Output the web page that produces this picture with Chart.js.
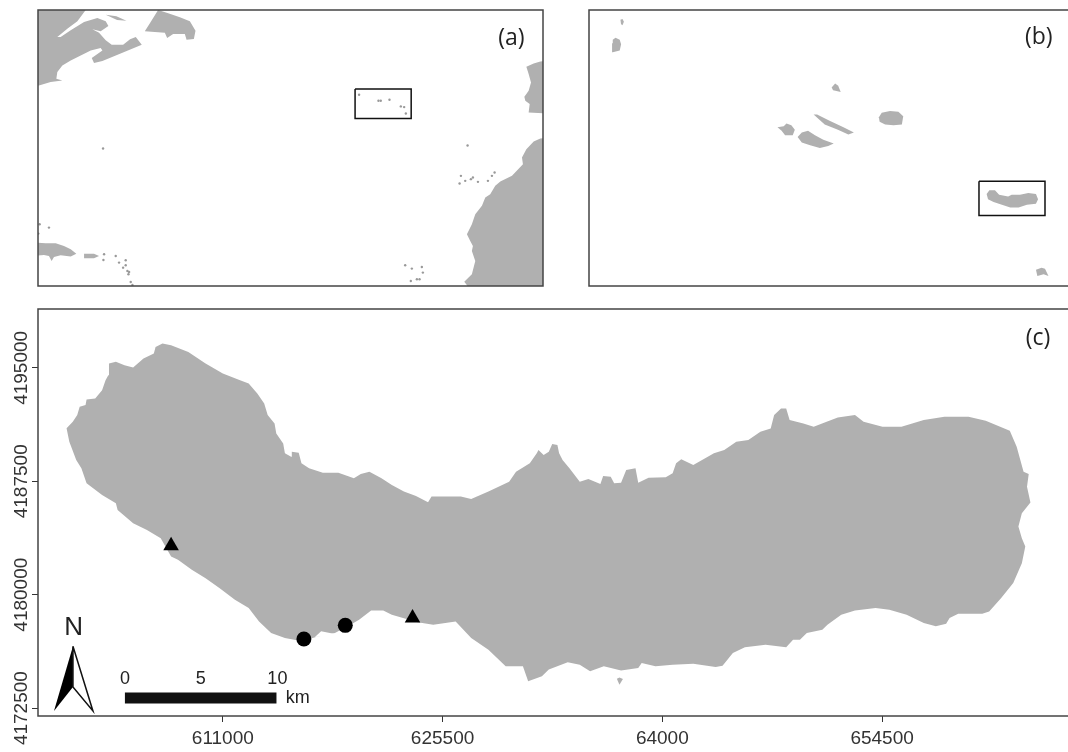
<!DOCTYPE html>
<html>
<head>
<meta charset="utf-8">
<title>Study area map</title>
<script src="https://cdn.jsdelivr.net/npm/chart.js@4"></script>
<style>
  body { margin: 0; background: #fff; width: 1068px; height: 752px; overflow: hidden; position: relative; }
  canvas { position: absolute; display: block; }
  #mapA { left: 30px; top: 0; }
  #mapB { left: 580px; top: 0; }
  #mapC { left: 0; top: 300px; }
</style>
</head>
<body>
<canvas id="mapA" width="520" height="295"></canvas>
<canvas id="mapB" width="488" height="295"></canvas>
<canvas id="mapC" width="1090" height="452"></canvas>
<script>
const LAND = '#b0b0b0';

// --- panel (a): North Atlantic, lon / lat
const canadaLon = [-76, -68.33, -70.13, -71.49, -72.84, -72.39, -71.03, -69.23, -67.43, -66.30, -65.94, -66.98, -68.10, -67.20, -66.30, -65.49, -63.95, -63.01, -62.24, -61.43, -64.04, -66.75, -67.88, -68.19, -66.75, -66.98, -68.33, -69.68, -71.03, -72.16, -72.84, -72.97, -72.16, -73.74, -75.32, -76];
const canadaLat = [52, 52, 49.56, 48.57, 47.45, 47.45, 48.35, 49.47, 50.01, 49.56, 48.93, 48.21, 48.48, 48.03, 47.00, 46.41, 46.41, 47.13, 47.45, 46.41, 45.33, 44.20, 43.94, 44.61, 45.64, 45.96, 45.64, 44.97, 44.29, 43.62, 42.72, 41.82, 41.60, 41.37, 40.92, 40.83];
const newfoundlandLon = [-61.02, -60.25, -59.22, -57.86, -56.28, -54.93, -54.17, -54.39, -55.38, -55.61, -57.19, -58.0, -58.31];
const newfoundlandLat = [48.21, 49.43, 51.09, 50.64, 50.10, 49.56, 48.30, 47.18, 47.09, 47.85, 47.85, 47.31, 48.03];
const anticostiLon = [-66.30, -64.86, -63.50, -64.76];
const anticostiLat = [50.46, 50.24, 49.65, 49.74];
const iberiaLon = [-9.47, -8.48, -7.58, -6.68, -6.68, -9.16, -9.02, -9.61, -9.74, -9.16, -8.84, -9.16];
const iberiaLat = [43.44, 43.89, 44.16, 44.25, 37.14, 37.28, 38.40, 38.85, 39.39, 40.20, 41.33, 42.45];
const africaLon = [-6.68, -7.58, -8.48, -9.47, -10.06, -9.93, -11.41, -12.99, -13.67, -14.35, -15.02, -15.47, -16.37, -16.83, -17.50, -17.05, -16.69, -16.83, -16.37, -16.83, -17.86, -17.41, -17.41, -6.68];
const africaLat = [33.81, 33.77, 33.36, 32.33, 31.20, 30.30, 28.73, 27.96, 27.38, 26.25, 25.80, 24.68, 23.55, 22.20, 20.85, 19.95, 19.28, 18.60, 17.25, 15.45, 14.46, 13.88, 13.2, 13.2];
const hispaniolaLon = [-76.22, -74.42, -73.06, -71.94, -71.03, -70.27, -71.03, -72.39, -73.29, -73.61, -73.97, -74.64, -76.22];
const hispaniolaLat = [19.73, 19.64, 19.64, 19.28, 18.83, 18.24, 17.84, 18.02, 17.79, 17.25, 17.93, 18.06, 17.93];
const puertoRicoLon = [-69.23, -67.88, -67.2, -67.88, -69.23];
const puertoRicoLat = [18.24, 18.24, 17.93, 17.61, 17.61];
const isletLon = [-17.41, -18.31, -17.73, -18.49, -16.96, -16.69, -16.01, -14.66, -14.12, -13.76, -25.84, -24.94, -23.59, -23.45, -24.26, -25.08, -23.9, -29.14, -29.45, -27.96, -26.43, -25.98, -25.75, -32.07, -66.66, -73.97, -75.23, -75.41, -66.52, -66.61, -64.95, -64.5, -63.6, -63.6, -63.95, -63.37, -63.14, -63.23, -62.92, -62.69];
const isletLat = [32.82, 28.73, 28.05, 27.69, 28.28, 28.5, 27.92, 28.05, 28.73, 29.18, 16.67, 16.22, 16.44, 15.68, 14.78, 14.55, 14.78, 38.85, 38.85, 38.99, 38.09, 38.0, 37.14, 39.66, 32.42, 21.75, 22.2, 20.94, 18.15, 17.39, 17.93, 17.03, 17.34, 16.67, 16.35, 15.9, 15.77, 15.45, 14.42, 14.01];
const azoresBoxLon = [-32.61, -25.03, -25.03, -32.61, -32.61];
const azoresBoxLat = [40.43, 40.43, 36.47, 36.47, 40.43];

// --- panel (b): Azores archipelago
const corvoLon = [-31.13, -31.10, -31.08, -31.10, -31.12];
const corvoLat = [39.78, 39.79, 39.76, 39.72, 39.73];
const floresLon = [-31.25, -31.24, -31.20, -31.14, -31.12, -31.14, -31.24, -31.25];
const floresLat = [39.52, 39.56, 39.58, 39.56, 39.51, 39.44, 39.42, 39.46];
const graciosaLon = [-28.09, -28.04, -27.996, -27.96, -28.02, -28.07];
const graciosaLat = [39.03, 39.075, 39.05, 38.98, 38.99, 39.0];
const terceiraLon = [-27.41, -27.37, -27.25, -27.13, -27.06, -27.08, -27.20, -27.32, -27.40];
const terceiraLat = [38.70, 38.75, 38.77, 38.76, 38.71, 38.62, 38.61, 38.62, 38.65];
const saoJorgeLon = [-28.35, -28.30, -28.12, -27.92, -27.77, -27.85, -28.0, -28.19];
const saoJorgeLat = [38.73, 38.73, 38.66, 38.59, 38.53, 38.51, 38.56, 38.62];
const faialLon = [-28.87, -28.78, -28.74, -28.67, -28.62, -28.65, -28.76, -28.81];
const faialLat = [38.59, 38.60, 38.63, 38.61, 38.56, 38.50, 38.50, 38.55];
const picoLon = [-28.58, -28.52, -28.43, -28.33, -28.21, -28.06, -28.14, -28.26, -28.40, -28.52];
const picoLat = [38.48, 38.53, 38.55, 38.50, 38.45, 38.41, 38.38, 38.36, 38.39, 38.42];
const saoMiguelLon = [-25.86, -25.82, -25.74, -25.68, -25.55, -25.50, -25.38, -25.26, -25.15, -25.12, -25.15, -25.28, -25.40, -25.52, -25.64, -25.76, -25.84];
const saoMiguelLat = [37.85, 37.89, 37.89, 37.84, 37.82, 37.84, 37.84, 37.86, 37.85, 37.79, 37.74, 37.73, 37.70, 37.70, 37.73, 37.76, 37.79];
const santaMariaLon = [-25.15, -25.07, -25.02, -24.97, -25.04, -25.13];
const santaMariaLat = [37.01, 37.03, 37.02, 36.94, 36.96, 36.94];
const miguelBoxLon = [-25.97, -25.02, -25.02, -25.97, -25.97];
const miguelBoxLat = [37.99, 37.99, 37.61, 37.61, 37.99];

// --- panel (c): Sao Miguel in UTM metres
const coastX = [600690, 601100, 601395, 601555, 601942, 602010, 602579, 603034, 603262, 603444, 603489, 603944, 604513, 605082, 605765, 606448, 606562, 607017, 607586, 608724, 609862, 611000, 612138, 612707, 613276, 613731, 613959, 614414, 614528, 614983, 615097, 615506, 615552, 616007, 616189, 616690, 617600, 618625, 619649, 620104, 620673, 621470, 622152, 622949, 623746, 624542, 624770, 625794, 626704, 627387, 628525, 629891, 630346, 631256,
  631715, 631828, 632169, 632509, 632736, 633077, 633190, 633417, 633871, 634552, 635120, 635914, 636096, 636595, 636822, 637276, 637617, 638229, 638411, 639092, 640227, 640681, 640908, 641249, 642043, 643405, 644086, 644881, 645675, 646470, 647151, 647378, 647832, 648172, 648399, 649307, 649988, 650669, 651577, 652712, 653280, 654528, 655777, 657252, 658614, 660203, 661338, 662927, 663381, 663835, 664176, 664062, 664289, 663722, 663495, 663722, 663949, 663722, 663154, 662360, 661565, 661111, 659522, 658955, 658728, 658047, 657252, 656117, 654982, 654074, 652712, 651804, 650896, 650556, 649534, 649080, 648626, 648172, 646810, 645448, 644654, 643973, 643519, 642043, 640681, 639546, 638638, 638411, 637276, 636141, 635233, 634552, 633758, 632509, 632055, 631147,
  630801, 629663, 628525, 627387, 626363, 624884, 623859, 623290, 622152, 621583, 620787, 619990, 619421, 618397, 617145, 616235, 615097, 614186, 613390, 612707, 611797, 610772, 609862, 608952, 608041, 607586, 606903, 605993, 605082, 604058, 603944, 603034, 602010, 601668, 601327, 600872];
const coastY = [4191000, 4191436, 4191876, 4192426, 4192536, 4192910, 4192976, 4193526, 4194186, 4194516, 4195286, 4195396, 4195176, 4195022, 4195616, 4195946, 4196386, 4196606, 4196496, 4196056, 4195286, 4194626, 4194186, 4193966, 4193306, 4192646, 4191876, 4191326, 4190666, 4190006, 4189346, 4189126, 4189456, 4189390, 4188686, 4188356, 4188070, 4188070, 4187696, 4187982, 4188136, 4187696, 4187256, 4186816, 4186530, 4186112, 4186486, 4186486, 4186486, 4186332, 4186816, 4187476, 4188136, 4188686,
  4189346, 4189566, 4189236, 4189456, 4189962, 4189896, 4189346, 4188906, 4188356, 4187476, 4187652, 4187322, 4187850, 4187806, 4187366, 4187410, 4188246, 4188356, 4187410, 4187740, 4187762, 4188026, 4188686, 4188950, 4188576, 4189346, 4189566, 4190116, 4190226, 4190776, 4190996, 4191876, 4192316, 4192316, 4191546, 4191326, 4191106, 4191370, 4191722, 4191876, 4191436, 4191106, 4191106, 4191546, 4191766, 4191766, 4191502, 4190842, 4189786, 4188136, 4187982, 4187146, 4186090, 4185386, 4184506, 4183736, 4183186, 4182086, 4180766, 4179776, 4178896, 4178742, 4178742, 4178456, 4178082, 4177906, 4178126, 4178676, 4179006, 4179116, 4178962, 4178676, 4178016, 4177686, 4177466, 4177026, 4177026, 4176520, 4176696, 4176520, 4176146, 4175310, 4175222, 4175442, 4175376, 4175266, 4175486, 4175156, 4174980, 4175266, 4174936, 4175376, 4175530, 4175046, 4174606, 4174276,
  4175266, 4175266, 4176366, 4177136, 4178236, 4178016, 4178170, 4178346, 4178676, 4178962, 4178962, 4178346, 4178016, 4177466, 4177202, 4176916, 4177136, 4177466, 4178236, 4179116, 4179666, 4180436, 4181096, 4181646, 4182306, 4182526, 4183736, 4184286, 4184726, 4185606, 4186046, 4186596, 4187366, 4188356, 4188906, 4190116];
const islandX = [637000, 637170, 637400, 637170];
const islandY = [4174450, 4174520, 4174420, 4174050];
const lagoonX = [617077, 617487, 618397, 618055];
const lagoonY = [4177202, 4177576, 4177400, 4177246];

const triangleX = [607586, 623518];
const triangleY = [4183230, 4178456];
const circleX = [616349, 619080];
const circleY = [4177070, 4177972];

const xTickValues = [611000, 625500, 640000, 654500];
const xTickLabels = ['611000', '625500', '64000', '654500'];
const yTickValues = [4172500, 4180000, 4187500, 4195000];
const yTickLabels = ['4172500', '4180000', '4187500', '4195000'];

const scaleBarX = [604540, 614540];
const scaleBarY = [4173167, 4173167];
const arrowLeftX = [601112, 599860, 601112];
const arrowLeftY = [4176597, 4172310, 4173893];
const arrowRightX = [601112, 602430, 601112, 601112];
const arrowRightY = [4176597, 4172310, 4173893, 4176597];

function toPoints(xs, ys) {
  return xs.map((x, i) => ({ x: x, y: ys[i] }));
}

function land(xs, ys, color) {
  return {
    data: toPoints(xs, ys), showLine: true, fill: 'shape',
    backgroundColor: color || LAND, borderWidth: 0, pointRadius: 0, tension: 0
  };
}

function outline(xs, ys, width) {
  return {
    data: toPoints(xs, ys), showLine: true, fill: false,
    borderColor: '#111', borderWidth: width || 1.5, pointRadius: 0, tension: 0
  };
}

function dots(xs, ys, style, radius, color) {
  return {
    data: toPoints(xs, ys), showLine: false, pointStyle: style, pointRadius: radius,
    backgroundColor: color, borderColor: color, borderWidth: 0
  };
}

// draws the frame round the plot and the free texts, which sit at data coordinates
const mapDecor = {
  id: 'mapDecor',
  afterDatasetsDraw(chart, args, opts) {
    const { ctx, chartArea: a, scales } = chart;
    ctx.save();
    ctx.strokeStyle = '#444';
    ctx.lineWidth = 1.5;
    ctx.strokeRect(a.left, a.top, a.width + (opts.openRight ? 4 : 0), a.height);
    ctx.textAlign = 'center';
    ctx.textBaseline = 'middle';
    (opts.texts || []).forEach(t => {
      ctx.font = t.font;
      ctx.fillStyle = t.color || '#222';
      ctx.fillText(t.text, scales.x.getPixelForValue(t.x), scales.y.getPixelForValue(t.y));
    });
    ctx.restore();
  }
};

function hiddenAxis(min, max) {
  return { type: 'linear', min: min, max: max, display: false };
}

// datasets are listed bottom layer first; Chart.js paints the first one last
function makeMap(id, datasets, scales, padding, decor) {
  return new Chart(document.getElementById(id), {
    type: 'scatter',
    data: { datasets: datasets.slice().reverse() },
    options: {
      responsive: false,
      animation: false,
      layout: { padding: padding },
      scales: scales,
      plugins: { legend: { display: false }, tooltip: { enabled: false }, mapDecor: decor }
    },
    plugins: [mapDecor]
  });
}

const labelFont = '23px "Open Sans", sans-serif';
const sansFont = '18px "Liberation Sans", sans-serif';

makeMap('mapA', [
  land(canadaLon, canadaLat),
  land(newfoundlandLon, newfoundlandLat),
  land(anticostiLon, anticostiLat),
  land(iberiaLon, iberiaLat),
  land(africaLon, africaLat),
  land(hispaniolaLon, hispaniolaLat),
  land(puertoRicoLon, puertoRicoLat),
  dots(isletLon, isletLat, 'circle', 1.2, '#999'),
  outline(azoresBoxLon, azoresBoxLat)
], { x: hiddenAxis(-75.45, -7.22), y: hiddenAxis(13.875, 51.09) },
  { left: 8, top: 10, right: 7, bottom: 9 },
  { texts: [{ x: -11.5, y: 47.22, text: '(a)', font: labelFont }] });

makeMap('mapB', [
  land(corvoLon, corvoLat),
  land(floresLon, floresLat),
  land(graciosaLon, graciosaLat),
  land(terceiraLon, terceiraLat),
  land(saoJorgeLon, saoJorgeLat),
  land(faialLon, faialLat),
  land(picoLon, picoLat),
  land(saoMiguelLon, saoMiguelLat),
  land(santaMariaLon, santaMariaLat),
  outline(miguelBoxLon, miguelBoxLat)
], { x: hiddenAxis(-31.582, -24.689), y: hiddenAxis(36.829, 39.889) },
  { left: 9, top: 10, right: 0, bottom: 9 },
  { openRight: true, texts: [{ x: -25.11, y: 39.58, text: '(b)', font: labelFont }] });

makeMap('mapC', [
  land(coastX, coastY),
  land(islandX, islandY),
  land(lagoonX, lagoonY, '#ffffff'),
  dots(triangleX, triangleY, 'triangle', 9, '#000'),
  dots(circleX, circleY, 'circle', 7.5, '#000'),
  outline(scaleBarX, scaleBarY, 11),
  land(arrowLeftX, arrowLeftY, '#000'),
  outline(arrowRightX, arrowRightY, 1.5)
], {
  x: {
    type: 'linear', min: 598805, max: 667625,
    border: { display: false },
    grid: { drawOnChartArea: false, tickLength: 6, color: '#333' },
    afterBuildTicks: s => { s.ticks = xTickValues.map(v => ({ value: v })); },
    afterFit: s => { s.height = 36; s.paddingLeft = 0; s.paddingRight = 0; },
    ticks: {
      autoSkip: false, maxRotation: 0, minRotation: 0, padding: 5, color: '#333',
      font: { family: 'Liberation Sans', size: 19 },
      callback: v => xTickLabels[xTickValues.indexOf(v)]
    }
  },
  y: {
    type: 'linear', min: 4171979, max: 4198892,
    border: { display: false },
    grid: { drawOnChartArea: false, tickLength: 6, color: '#333' },
    afterBuildTicks: s => { s.ticks = yTickValues.map(v => ({ value: v })); },
    afterFit: s => { s.width = 38; s.paddingTop = 0; s.paddingBottom = 0; },
    ticks: {
      autoSkip: false, minRotation: 90, maxRotation: 90, crossAlign: 'center', padding: -27, color: '#333',
      font: { family: 'Liberation Sans', size: 19 },
      callback: v => yTickLabels[yTickValues.indexOf(v)]
    }
  }
}, { top: 8, right: 0, left: 0, bottom: 0 }, {
  openRight: true,
  texts: [
    { x: 664791, y: 4196913, text: '(c)', font: labelFont },
    { x: 604540, y: 4174420, text: '0', font: sansFont },
    { x: 609540, y: 4174420, text: '5', font: sansFont },
    { x: 614600, y: 4174420, text: '10', font: sansFont },
    { x: 615950, y: 4173167, text: 'km', font: sansFont },
    { x: 601158, y: 4177785, text: 'N', font: '26px "Liberation Sans", sans-serif' }
  ]
});
</script>
</body>
</html>
